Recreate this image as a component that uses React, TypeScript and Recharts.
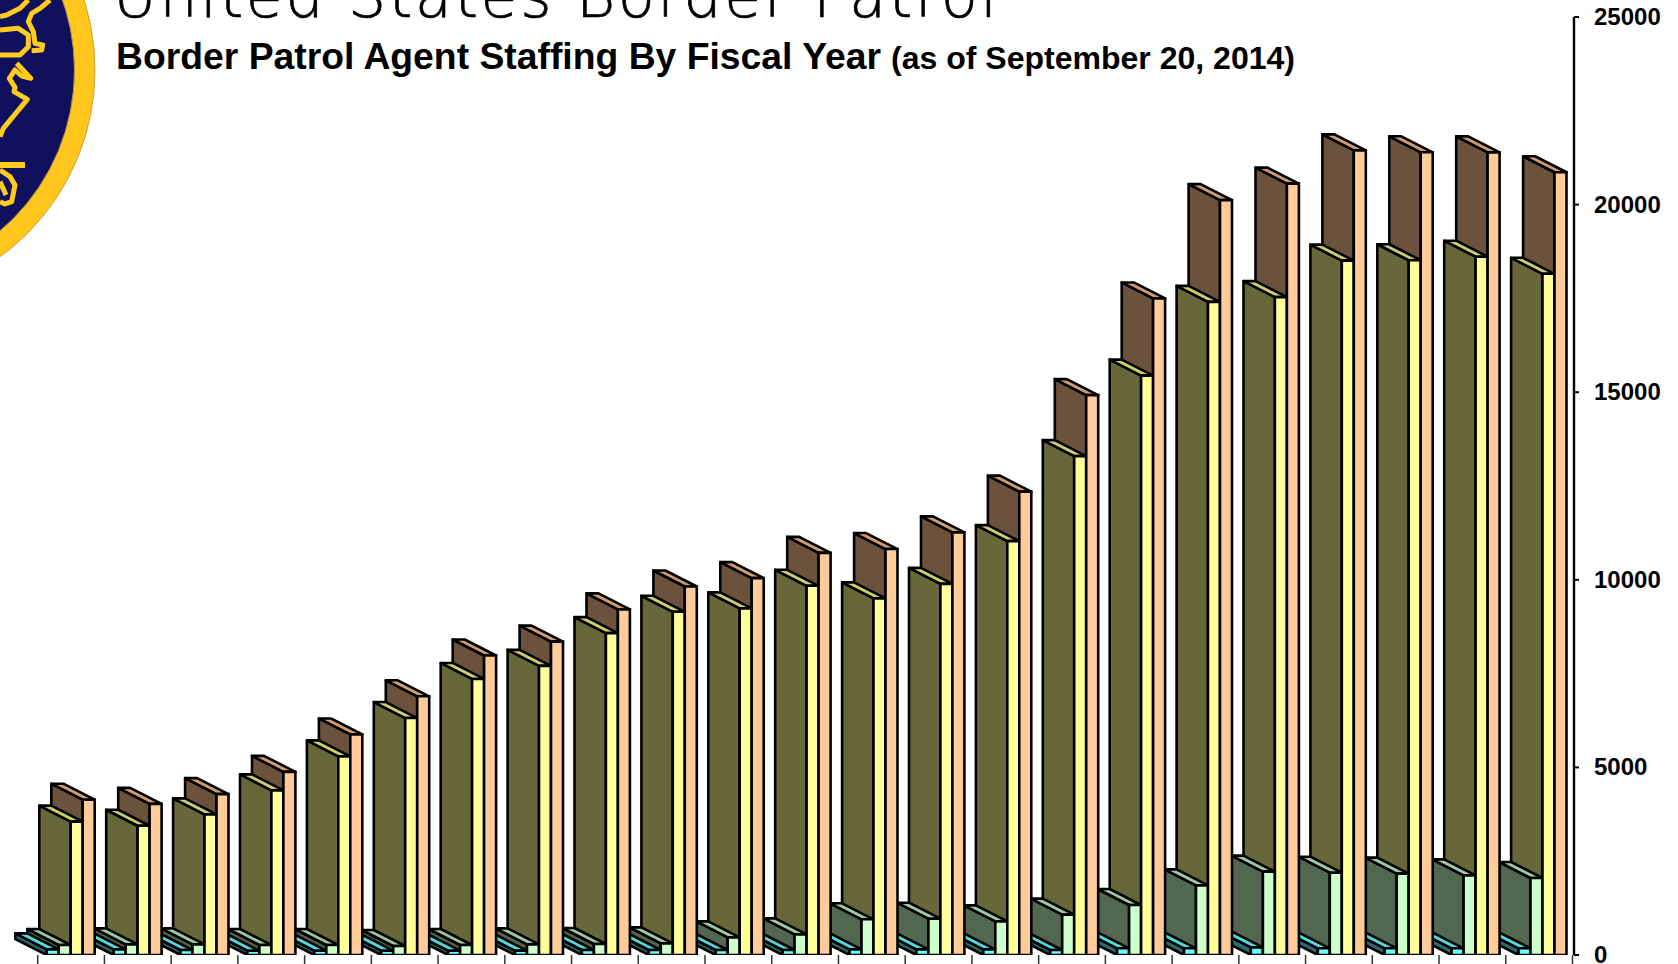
import React from "react";
import { BarChart, Bar, XAxis, YAxis } from "recharts";

const fiscalYears = ["FY92","FY93","FY94","FY95","FY96","FY97","FY98","FY99","FY00","FY01","FY02","FY03","FY04","FY05","FY06","FY07","FY08","FY09","FY10","FY11","FY12","FY13","FY14"];
const coastal = [151,151,133,115,115,115,115,115,133,133,133,133,151,151,151,133,178,178,204,178,178,178,178];
const northern = [266,284,284,266,266,240,266,284,293,311,471,551,951,968,897,1075,1333,1857,2221,2194,2168,2123,2052];
const southwest = [3555,3444,3747,4388,5293,6315,7357,7706,8580,9147,9239,9840,9506,9891,11032,13297,15442,17408,17535,18506,18516,18611,18156];
const total = [4139,4028,4287,4881,5878,6895,7982,8351,9212,9821,10045,10717,10819,11264,12349,14923,17499,20119,20558,21444,21394,21391,20863];
const yTicks = [0,5000,10000,15000,20000,25000];

const data = fiscalYears.map((fy, i) => ({ fy, coastal: coastal[i], northern: northern[i], southwest: southwest[i], total: total[i] }));

const WIDTH = 1678, HEIGHT = 964;
const LEFT = 37.7, RIGHT = 1574, TOP = 17, BOTTOM = 955;
const TICK_STEP = 66.73;
const AXIS_PADDING = { left: 0, right: -2.4 };
const BAR_W = 12, DX = 31.4, DY = 16, STROKE = 2.6;

// slot: left-to-right position of the bar inside its category
const seriesStyles = [
  { key: "total", slot: 3, front: "#FFCC99", side: "#6A523C", top: "#CF9C70" },
  { key: "southwest", slot: 2, front: "#FFFF99", side: "#67673A", top: "#CCCC70" },
  { key: "northern", slot: 1, front: "#CCFFCC", side: "#51674F", top: "#9FC8A0" },
  { key: "coastal", slot: 0, front: "#66FFFF", side: "#2B6B70", top: "#55D8DC" },
];

const backShape = (slot: number, side: string, top: string) => (p: any) => {
  const fx = p.x + (slot - 1.5) * p.width;
  const { y, height: h, width: w } = p;
  const b = y + h;
  return (
    <g stroke="#000" strokeWidth={STROKE} strokeLinejoin="round">
      <polygon fill={side} points={`${fx},${y} ${fx},${b} ${fx - DX},${b - DY} ${fx - DX},${y - DY}`} />
      <polygon fill={top} points={`${fx},${y} ${fx + w},${y} ${fx + w - DX},${y - DY} ${fx - DX},${y - DY}`} />
    </g>
  );
};

const XTick = (p: any) => {
  const left = LEFT + p.index * TICK_STEP;
  const last = p.index === fiscalYears.length - 1;
  return (
    <g stroke="#333" strokeWidth={1.5}>
      <line x1={left} x2={left} y1={BOTTOM} y2={BOTTOM + 9} />
      {last ? <line x1={left + TICK_STEP} x2={left + TICK_STEP} y1={BOTTOM} y2={BOTTOM + 9} /> : null}
    </g>
  );
};

const YTick = (p: any) => (
  <text x={p.x} y={p.y} dy={8} textAnchor="start" fontFamily="Liberation Sans" fontWeight="bold" fontSize={24} fill="#000">
    {p.payload.value}
  </text>
);

const Logo = () => (
  <g>
    <circle cx={-136.5} cy={70} r={231.5} fill="#FFC61E" stroke="#C9A23A" strokeWidth={1} />
    <circle cx={-136.5} cy={70} r={211} fill="#10105C" stroke="#B89A50" strokeWidth={1} />
    <g transform="scale(0.3333)" fill="none" stroke="#FFCB1F" strokeWidth={15} strokeLinejoin="round">
      <path d="M150,0 L120,25 L95,40 L85,65 L100,95 L105,130 L128,135 L125,150 L95,152" />
      <path d="M85,0 L60,25 L20,45 L0,50" />
      <path d="M0,90 L55,85 L85,105 L85,140 L60,165 L0,165" />
      <path d="M50,190 L92,235 L65,228 L45,210 L28,235 L45,262 L42,275 L82,298 L10,385 L0,410" />
      <path d="M0,495 L75,495" strokeWidth={18} />
      <path d="M0,510 L30,530 L45,555 L35,605 L15,612 L0,605" />
      <path d="M0,545 L18,585" />
    </g>
  </g>
);

export default function App() {
  return (
    <div style={{ position: "absolute", left: 0, top: 0, width: WIDTH, height: HEIGHT, overflow: "hidden", background: "#fff" }}>
      <svg width={WIDTH} height={HEIGHT} style={{ position: "absolute", left: 0, top: 0 }}>
        <Logo />
        <text x={113} y={17} fontFamily="'DejaVu Sans ExtraLight','DejaVu Sans'" fontWeight={200} fontSize={60} stroke="#000" strokeWidth={0.7} textLength={884} lengthAdjust="spacing" fill="#000">United States Border Patrol</text>
        <text x={116} y={69} fontFamily="Liberation Sans" fontWeight="bold" fontSize={37} textLength={765} lengthAdjust="spacingAndGlyphs" fill="#000">Border Patrol Agent Staffing By Fiscal Year</text>
        <text x={891} y={69} fontFamily="Liberation Sans" fontWeight="bold" fontSize={32} textLength={404} lengthAdjust="spacingAndGlyphs" fill="#000">(as of September 20, 2014)</text>
      </svg>
      <div style={{ position: "absolute", left: 0, top: 0 }}>
        <BarChart width={WIDTH} height={HEIGHT} data={data} barGap={0} barSize={BAR_W}
          margin={{ top: TOP, left: LEFT, right: WIDTH - RIGHT - 84, bottom: 0 }}>
          <XAxis xAxisId="front" dataKey="fy" padding={AXIS_PADDING} height={HEIGHT - BOTTOM} axisLine={false} tickLine={false} tickSize={0} tickMargin={0} interval={0} tick={XTick} />
          {seriesStyles.map((s) => (
            <XAxis key={s.key} xAxisId={"back-" + s.key} dataKey="fy" padding={AXIS_PADDING} hide />
          ))}
          <YAxis orientation="right" width={84} domain={[0, 25000]} ticks={yTicks} interval={0} allowDataOverflow
            axisLine={{ stroke: "#000", strokeWidth: 2.4 }} tickLine={{ stroke: "#000", strokeWidth: 2 }} tickSize={5} tickMargin={15} tick={YTick} />
          {seriesStyles.map((s) => (
            <Bar key={"b" + s.key} xAxisId={"back-" + s.key} dataKey={s.key} isAnimationActive={false} shape={backShape(s.slot, s.side, s.top)} />
          ))}
          {[...seriesStyles].reverse().map((s) => (
            <Bar key={"f" + s.key} xAxisId="front" dataKey={s.key} fill={s.front} stroke="#000" strokeWidth={STROKE} isAnimationActive={false} />
          ))}
        </BarChart>
      </div>
    </div>
  );
}
